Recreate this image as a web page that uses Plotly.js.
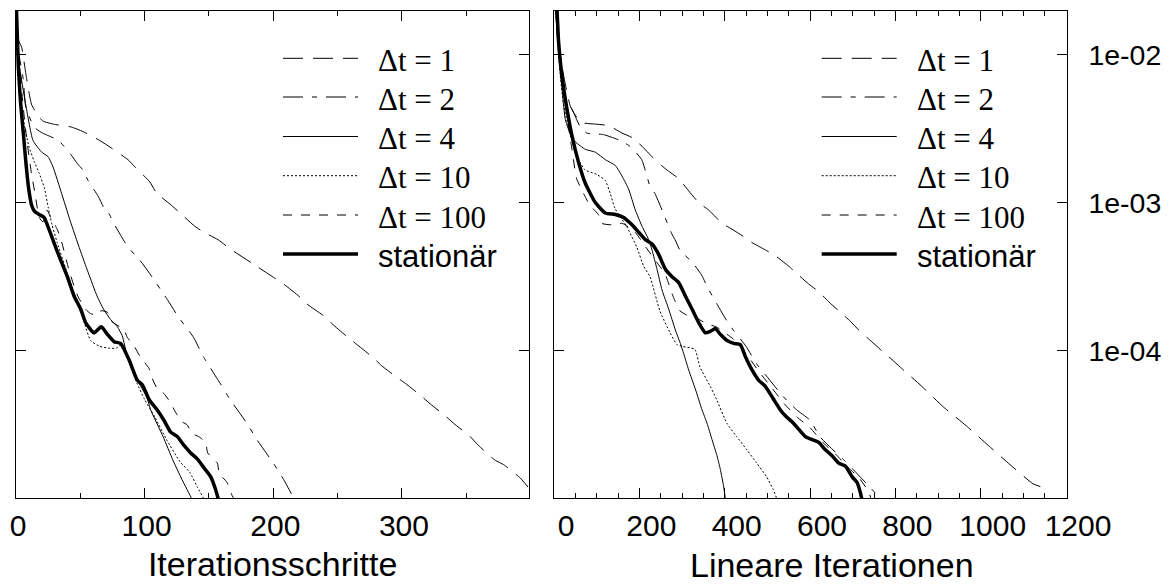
<!DOCTYPE html>
<html><head><meta charset="utf-8">
<script src="https://cdn.plot.ly/plotly-3.0.1.min.js"></script>
<style>html,body{margin:0;padding:0;background:#fff}</style>
</head><body><div id="chart" style="width:1174px;height:584px"></div>
<script>
// ---------------- data ----------------
const seriesNames = ['Δt = 1', 'Δt = 2', 'Δt = 4', 'Δt = 10', 'Δt = 100', 'stationär'];

// Left panel: x = Iterationsschritte
const left_dt1_x = [0,1.8,4.4,8,12.2,17,21,29,36,43,52,65,74,87,92.5,104,109,121,127.5,139,146,157,166,187,201,208,221,227,240,246,258,265,278,284,296,302.5,315.5,322,335,340,353,359.5,372.5,379,392,398];
const left_dt1_y = [2.24e-2,1.26e-2,1.12e-2,7.08e-3,4.57e-3,3.89e-3,3.55e-3,3.39e-3,3.31e-3,3.24e-3,3.02e-3,2.63e-3,2.34e-3,1.95e-3,1.74e-3,1.38e-3,1.17e-3,9.55e-4,8.51e-4,6.92e-4,6.31e-4,5.62e-4,4.90e-4,3.72e-4,3.09e-4,2.82e-4,2.29e-4,2.04e-4,1.70e-4,1.51e-4,1.23e-4,1.10e-4,8.91e-5,7.94e-5,6.61e-5,6.03e-5,4.90e-5,4.37e-5,3.55e-5,3.24e-5,2.63e-5,2.29e-5,1.82e-5,1.70e-5,1.38e-5,1.20e-5];

const left_dt2_x = [0,1.8,5.7,7.5,14,20.5,25.6,33,43,48,52,56,64,68,72,76,82,87,96.4,104,118,126,138,145.6,158.6,166.4,179.4,187.2,200,208,215.6,218];
const left_dt2_y = [2.24e-2,1.07e-2,6.76e-3,4.47e-3,3.24e-3,2.95e-3,2.82e-3,2.63e-3,2.09e-3,1.82e-3,1.66e-3,1.41e-3,1.10e-3,9.33e-4,8.51e-4,7.24e-4,5.89e-4,5.01e-4,4.07e-4,3.31e-4,2.19e-4,1.70e-4,1.23e-4,9.12e-5,6.03e-5,4.68e-5,3.24e-5,2.51e-5,1.74e-5,1.35e-5,1.02e-5,9.33e-6];

const left_dt4_x = [0,0.5,3,7,13.2,20,25,28.8,35.5,42,49.8,56,63,68,73.6,78.8,82.6,86.5,91.7,96.9,101.6,104.7,114.3,122,129,136.6,138];
const left_dt4_y = [2.24e-2,1.20e-2,7.94e-3,4.90e-3,2.63e-3,2.19e-3,2.04e-3,1.74e-3,1.15e-3,7.59e-4,4.79e-4,3.39e-4,2.34e-4,1.91e-4,1.62e-4,1.45e-4,1.26e-4,9.12e-5,7.08e-5,5.75e-5,4.90e-5,3.98e-5,2.63e-5,1.82e-5,1.35e-5,1.00e-5,9.33e-6];

const left_dt10_x = [0,3,6,10,14,18,22,25,28,32,40,46,53,58,65,72,78,82,88,94,100,108,117,127.5,135,141,146,148];
const left_dt10_y = [2.24e-2,6.31e-3,3.55e-3,2.40e-3,1.91e-3,1.58e-3,1.26e-3,9.33e-4,7.08e-4,5.37e-4,3.31e-4,2.34e-4,1.55e-4,1.17e-4,1.07e-4,1.04e-4,1.04e-4,1.10e-4,8.32e-5,6.03e-5,4.68e-5,3.55e-5,2.51e-5,1.78e-5,1.51e-5,1.20e-5,1.00e-5,9.33e-6];

const left_dt100_x = [0,2,5,8,12,15,18,21,24,27,32,35,41,45,48,54,58,63,66,71,74,77.5,84,86.5,92,96.4,103.4,105,110,115,120,123,129,133,137,142,147.4,149,156.5,158,164,168,172];
const left_dt100_y = [2.24e-2,1.12e-2,5.01e-3,2.82e-3,1.58e-3,1.12e-3,7.94e-4,7.41e-4,8.91e-4,7.94e-4,6.61e-4,5.62e-4,3.55e-4,2.75e-4,2.34e-4,1.91e-4,1.78e-4,1.74e-4,1.86e-4,1.82e-4,1.58e-4,1.51e-4,1.38e-4,1.23e-4,1.07e-4,9.12e-5,7.59e-5,6.76e-5,5.50e-5,5.13e-5,4.47e-5,3.98e-5,3.31e-5,3.16e-5,2.75e-5,2.63e-5,2.40e-5,2.04e-5,1.74e-5,1.48e-5,1.29e-5,1.05e-5,9.33e-6];

const left_stat_x = [0,1.8,3.6,5.7,7.7,9.6,12.2,14.5,17.9,21.8,25.6,29.5,33.4,39.9,45.1,50.3,54.1,60.6,66.3,71,76.2,81.3,87.8,94.3,98.2,103.4,109.8,115,120.2,125.4,130.6,135.8,140.9,146.1,151.3,155.2,157.8];
const left_stat_y = [2.51e-2,8.32e-3,4.68e-3,2.95e-3,1.86e-3,1.29e-3,9.55e-4,8.71e-4,8.32e-4,7.94e-4,6.61e-4,5.37e-4,4.37e-4,3.16e-4,2.34e-4,1.91e-4,1.55e-4,1.32e-4,1.45e-4,1.29e-4,1.15e-4,1.12e-4,8.71e-5,6.31e-5,5.89e-5,4.68e-5,3.98e-5,3.39e-5,2.82e-5,2.63e-5,2.29e-5,2.04e-5,1.86e-5,1.62e-5,1.41e-5,1.15e-5,9.55e-6];

// Right panel: x = Lineare Iterationen
const right_dt1_x = [0,10,20,30,38.3,50,65.6,96.9,128,159.4,182.8,206.3,229.7,252,264.8,292.2,315.6,339,362.5,393.8,417.2,444.5,464,495.3,518.8,550,569.5,596.9,620,643.8,667,694.5,714,737.5,768,792,811,861.7,912.4,967.2,1017.8,1068.7,1123,1143];
const right_dt1_y = [3.16e-2,1.26e-2,7.94e-3,5.62e-3,4.47e-3,3.89e-3,3.47e-3,3.39e-3,3.31e-3,2.95e-3,2.75e-3,2.40e-3,2.04e-3,1.78e-3,1.66e-3,1.45e-3,1.20e-3,1.00e-3,8.91e-4,7.24e-4,6.61e-4,5.89e-4,5.37e-4,4.79e-4,4.37e-4,3.72e-4,3.31e-4,2.82e-4,2.51e-4,2.14e-4,1.86e-4,1.58e-4,1.38e-4,1.20e-4,1.00e-4,8.71e-5,7.76e-5,5.75e-5,4.17e-5,3.09e-5,2.29e-5,1.70e-5,1.26e-5,1.20e-5];

const right_dt2_x = [0,10,26.6,42.2,60,76.6,115.6,154.7,178,205.5,225,236.7,256,275.8,283.6,295,326,346,361,381,401,420,450,475,506,537,569,600,623,650,680,710,740,764,767];
const right_dt2_y = [3.16e-2,1.12e-2,5.01e-3,4.27e-3,3.31e-3,2.95e-3,2.88e-3,2.63e-3,2.40e-3,1.95e-3,1.29e-3,1.15e-3,8.51e-4,6.17e-4,5.62e-4,4.79e-4,3.89e-4,3.24e-4,2.63e-4,2.09e-4,1.66e-4,1.38e-4,1.07e-4,8.13e-5,6.31e-5,4.90e-5,3.98e-5,3.39e-5,2.63e-5,2.19e-5,1.82e-5,1.48e-5,1.20e-5,1.00e-5,9.33e-6];

const right_dt4_x = [0,5,10,18,26.6,40,50,73.4,96.9,120.3,143.8,159.4,175,190.6,206.3,221.9,229.7,241.4,253.1,268.8,284.4,296.1,303.9,315.6,331.3,346.9,358.6,370.3,382,389.8,397.7,401.6,403];
const right_dt4_y = [3.16e-2,1.78e-2,1.12e-2,6.31e-3,3.63e-3,2.82e-3,2.57e-3,2.29e-3,2.19e-3,1.95e-3,1.78e-3,1.51e-3,1.23e-3,8.91e-4,6.92e-4,5.62e-4,4.79e-4,3.55e-4,2.57e-4,1.91e-4,1.38e-4,1.12e-4,9.55e-5,7.41e-5,5.50e-5,3.98e-5,3.24e-5,2.51e-5,1.95e-5,1.58e-5,1.20e-5,1.00e-5,9.33e-6];

const right_dt10_x = [0,8,15,22,37,55,73,100,120,132,143,170,194,210,225,248,272,288,300,330,342,366,381,405,428,452,475,498,514,522,524];
const right_dt10_y = [3.16e-2,1.26e-2,7.08e-3,4.68e-3,2.95e-3,2.00e-3,1.66e-3,1.55e-3,1.41e-3,1.15e-3,9.12e-4,6.92e-4,5.01e-4,3.72e-4,3.16e-4,1.86e-4,1.32e-4,1.10e-4,1.07e-4,1.02e-4,7.76e-5,5.75e-5,4.68e-5,3.24e-5,2.63e-5,2.14e-5,1.74e-5,1.41e-5,1.15e-5,1.00e-5,9.33e-6];

const right_dt100_x = [0,10,25,40,53,61,72.7,84.4,104,112,135,160,190,215,240,260,280,295,311,334,360,380,400,420,450,480,510,540,570,600,630,660,690,715,737,745];
const right_dt100_y = [3.16e-2,1.12e-2,5.01e-3,2.51e-3,1.45e-3,1.29e-3,1.10e-3,9.55e-4,8.32e-4,7.24e-4,7.08e-4,7.24e-4,6.31e-4,5.01e-4,3.98e-4,3.31e-4,2.29e-4,1.86e-4,1.74e-4,1.66e-4,1.51e-4,1.45e-4,1.32e-4,1.20e-4,9.55e-5,7.24e-5,5.62e-5,4.37e-5,3.55e-5,3.02e-5,2.40e-5,2.00e-5,1.62e-5,1.38e-5,1.12e-5,9.55e-6];

const right_stat_x = [0,7,10.9,18.8,30.5,42.2,57.8,73.4,96.9,120.3,143.8,163.3,182.8,198.4,214,229.7,245.3,261,276.6,292.2,307.8,323.4,339,354.7,366.4,378.1,389.8,405.5,421,436.7,448.4,464,479.7,495.3,514.8,530.5,542.2,557.8,573.4,589,604.7,620.3,636,651.6,667.2,682.8,698.4,710.2,718,722];
const right_stat_y = [3.98e-2,2.00e-2,1.20e-2,7.08e-3,4.27e-3,2.82e-3,1.86e-3,1.35e-3,1.00e-3,8.51e-4,8.32e-4,7.94e-4,7.08e-4,6.31e-4,5.62e-4,5.25e-4,4.47e-4,3.55e-4,3.16e-4,2.88e-4,2.34e-4,1.91e-4,1.55e-4,1.32e-4,1.35e-4,1.41e-4,1.29e-4,1.17e-4,1.12e-4,1.10e-4,9.12e-5,7.41e-5,6.31e-5,5.75e-5,4.68e-5,3.98e-5,3.63e-5,3.31e-5,2.95e-5,2.63e-5,2.51e-5,2.40e-5,2.14e-5,1.95e-5,1.74e-5,1.66e-5,1.41e-5,1.29e-5,1.10e-5,9.77e-6];

// axis tick values / labels
const leftXTicks = [0, 100, 200, 300];
const leftXMinor = [50, 150, 250, 350];
const rightXTicks = [0, 200, 400, 600, 800, 1000, 1200];
const yTickVals = [1e-2, 1e-3, 1e-4];
const yTickText = ['1e-02', '1e-03', '1e-04'];
const xTitles = ['Iterationsschritte', 'Lineare Iterationen'];

// ---------------- styles ----------------
const lineStyles = [
  {dash: '20px,10px', width: 1},
  {dash: '20px,9px,5px,9px', width: 1},
  {dash: 'solid', width: 1},
  {dash: '2px,2px', width: 1},
  {dash: '9px,9px', width: 1},
  {dash: 'solid', width: 3.5}
];

const leftX = [left_dt1_x, left_dt2_x, left_dt4_x, left_dt10_x, left_dt100_x, left_stat_x];
const leftY = [left_dt1_y, left_dt2_y, left_dt4_y, left_dt10_y, left_dt100_y, left_stat_y];
const rightX = [right_dt1_x, right_dt2_x, right_dt4_x, right_dt10_x, right_dt100_x, right_stat_x];
const rightY = [right_dt1_y, right_dt2_y, right_dt4_y, right_dt10_y, right_dt100_y, right_stat_y];

const traces = [];
[['x', 'y', leftX, leftY], ['x2', 'y2', rightX, rightY]].forEach(([xa, ya, X, Y]) => {
  seriesNames.forEach((n, i) => {
    traces.push({x: X[i], y: Y[i], name: n, type: 'scatter', mode: 'lines',
      xaxis: xa, yaxis: ya, showlegend: false, cliponaxis: true,
      line: {color: '#000', width: lineStyles[i].width, dash: lineStyles[i].dash, shape: 'spline', smoothing: 0.5}});
  });
});

const W = 1174, H = 584;
const px = x => x / W, py = y => 1 - y / H;
const SANS = 'Liberation Sans, Arial, sans-serif';
const SERIF = 'Liberation Serif, Times New Roman, serif';

const yDomain = [py(498), py(11)];
const yRange = [-4.995, -1.706];

function xAxis(dom, range, tickvals, minor, shift, title) {
  return {
    domain: dom, range: range, tickmode: 'array', tickvals: tickvals, ticktext: tickvals.map(String),
    ticks: 'inside', ticklen: 10, tickwidth: 1, tickcolor: '#000',
    minor: Object.assign({ticks: 'inside', ticklen: 5, tickwidth: 1, tickcolor: '#000'}, minor),
    mirror: 'ticks', showline: true, linecolor: '#000', linewidth: 1,
    showgrid: false, zeroline: false, automargin: false, fixedrange: true,
    tickfont: {family: SANS, size: 30, color: '#000'}, ticklabelstandoff: 1, ticklabelshift: shift,
    title: {text: title, font: {family: SANS, size: 34, color: '#000'}, standoff: 11}
  };
}
function yAxis(anchor, side, showLabels) {
  return {
    anchor: anchor, domain: yDomain, type: 'log', range: yRange, side: side,
    tickmode: 'array', tickvals: yTickVals, ticktext: yTickText, showticklabels: showLabels,
    ticks: 'inside', ticklen: 10, tickwidth: 1, tickcolor: '#000',
    mirror: 'ticks', showline: true, linecolor: '#000', linewidth: 1,
    showgrid: false, zeroline: false, automargin: false, fixedrange: true,
    tickfont: {family: SANS, size: 28.5, color: '#000'}, ticklabelstandoff: 15
  };
}

// ---------------- legends (drawn in both panels) ----------------
const legendRowsY = [58.3, 97, 136.5, 175.7, 215, 254];
const legendPanels = [{x0: 283, x1: 358, tx: 376}, {x0: 821.7, x1: 896.7, tx: 915}];
const shapes = [], annotations = [];
legendPanels.forEach(p => {
  seriesNames.forEach((n, i) => {
    const y = legendRowsY[i];
    shapes.push({type: 'line', xref: 'paper', yref: 'paper', x0: px(p.x0), x1: px(p.x1), y0: py(y), y1: py(y),
      line: {color: '#000', width: lineStyles[i].width, dash: lineStyles[i].dash}});
    annotations.push({xref: 'paper', yref: 'paper', x: px(p.tx), y: py(y + 2), xanchor: 'left', yanchor: 'middle',
      text: n, showarrow: false,
      font: {family: i === 5 ? SANS : SERIF, size: 31, color: '#000'}});
  });
});
// right-hand axis title (sits slightly right of the panel centre in the reference)
annotations.push({xref: 'paper', yref: 'paper', x: px(832), y: py(565), xanchor: 'center', yanchor: 'middle',
  text: xTitles[1], showarrow: false, font: {family: SANS, size: 34, color: '#000'}});

const layout = {
  width: W, height: H, margin: {l: 0, r: 0, t: 0, b: 0},
  paper_bgcolor: '#fff', plot_bgcolor: '#fff', showlegend: false,
  xaxis: Object.assign(xAxis([px(16), px(529.3)], [0, 399], leftXTicks, {tickmode: 'array', tickvals: leftXMinor}, 2, xTitles[0]), {anchor: 'y'}),
  xaxis2: Object.assign(xAxis([px(554), px(1066.7)], [0, 1201.5], rightXTicks, {dtick: 50}, 12, ''), {anchor: 'y2'}),
  yaxis: yAxis('x', 'left', false),
  yaxis2: yAxis('x2', 'right', true),
  shapes: shapes, annotations: annotations
};

Plotly.newPlot('chart', traces, layout, {displayModeBar: false, staticPlot: true});
</script></body></html>
